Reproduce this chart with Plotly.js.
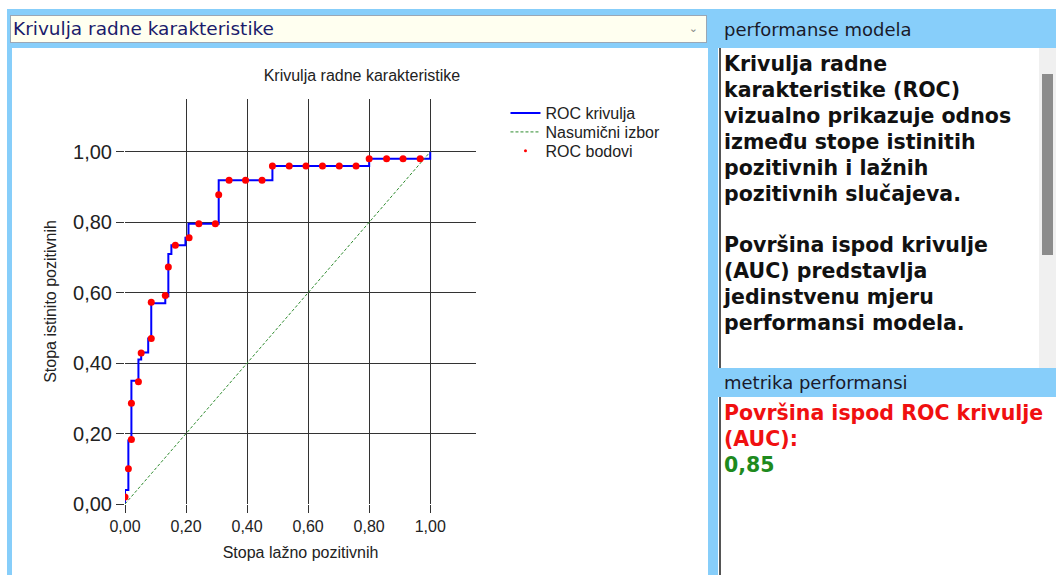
<!DOCTYPE html>
<html>
<head>
<meta charset="utf-8">
<script src="https://cdn.plot.ly/plotly-3.0.1.min.js"></script>
<style>
  html, body { margin:0; padding:0; width:1056px; height:575px; overflow:hidden; background:#ffffff; }
  .abs { position:absolute; box-sizing:border-box; }
  #frame { left:7px; top:9px; width:711px; height:566px; background:#87CEFA; }
  #combo { left:10px; top:15px; width:697px; height:28px; background:#FFFFF0; border:1px solid #9aa7b5;
           font-family:"DejaVu Sans", sans-serif; font-size:18.5px; color:#1b1b6b; line-height:26px; padding-left:2px; }
  #chev { right:8px; top:0px; font-size:11px; color:#888; }
  #plotbox { left:12px; top:48px; width:696px; height:527px; background:#ffffff; }
  .hdr { background:#87CEFA; font-family:"DejaVu Sans", sans-serif; font-size:18px; color:#1a1a2a; padding-left:8px; }
  #hdr1 { left:716px; top:9px; width:340px; height:39px; line-height:42px; }
  #box1 { left:719px; top:48px; width:337px; height:320px; background:#fff; border-left:2px solid #555; overflow:hidden; }
  #txt1 { left:3px; top:4px; width:312px; font-family:"DejaVu Sans", sans-serif; font-weight:bold; font-size:20.5px; line-height:25.9px; color:#111; }
  #track { left:318px; top:0px; width:19px; height:320px; background:#f0f0f0; }
  #thumb { left:321px; top:26px; width:11px; height:181px; background:#8c8c8c; }
  #hdr2 { left:716px; top:368px; width:340px; height:29px; line-height:29px; }
  #box2 { left:719px; top:397px; width:337px; height:178px; background:#fff; border-left:2px solid #555; }
  #txt2 { left:3px; top:4px; width:333px; font-family:"DejaVu Sans", sans-serif; font-weight:bold; font-size:20.5px; line-height:25.9px; }
</style>
</head>
<body>
<div id="frame" class="abs"></div>
<div id="combo" class="abs">Krivulja radne karakteristike<span id="chev" class="abs">&#8964;</span></div>
<div id="plotbox" class="abs"><div id="chart" style="width:696px;height:527px;"></div></div>

<div id="hdr1" class="abs hdr">performanse modela</div>
<div id="box1" class="abs">
  <div id="txt1" class="abs">Krivulja radne karakteristike (ROC) vizualno prikazuje odnos između stope istinitih pozitivnih i lažnih pozitivnih slučajeva.<br><br>Površina ispod krivulje (AUC) predstavlja jedinstvenu mjeru performansi modela.</div>
  <div id="track" class="abs"></div>
  <div id="thumb" class="abs"></div>
</div>
<div id="hdr2" class="abs hdr">metrika performansi</div>
<div id="box2" class="abs">
  <div id="txt2" class="abs"><span style="color:#f01010">Površina ispod ROC krivulje (AUC):</span><br><span style="color:#1e8a1e">0,85</span></div>
</div>

<script>
// ROC step curve vertices (false positive rate, true positive rate)
const curveFpr = [0, 0, 0.011, 0.021, 0.044, 0.053, 0.076, 0.086, 0.132, 0.142, 0.152, 0.198, 0.208, 0.307, 0.483, 0.80, 1.0];
const curveTpr = [0, 0.04, 0.18, 0.35, 0.41, 0.43, 0.47, 0.57, 0.59, 0.71, 0.735, 0.756, 0.796, 0.919, 0.96, 0.98, 1.0];

// ROC points
const pointFpr = [0, 0.011, 0.021, 0.021, 0.044, 0.053, 0.086, 0.086, 0.132, 0.142, 0.165, 0.21, 0.242, 0.296, 0.307, 0.341, 0.395, 0.449, 0.483, 0.538, 0.593, 0.647, 0.702, 0.757, 0.80, 0.857, 0.911, 0.967];
const pointTpr = [0.02, 0.10, 0.183, 0.286, 0.347, 0.429, 0.47, 0.573, 0.592, 0.673, 0.735, 0.756, 0.796, 0.796, 0.878, 0.919, 0.919, 0.919, 0.96, 0.96, 0.96, 0.96, 0.96, 0.96, 0.98, 0.98, 0.98, 0.98];

// Random guess diagonal
const diagX = [0, 1];
const diagY = [0, 1];

const tickVals = [0, 0.2, 0.4, 0.6, 0.8, 1.0];

const traces = [
  { x: curveFpr, y: curveTpr, type: 'scatter', mode: 'lines', name: 'ROC krivulja', legend: 'legend',
    line: { color: '#0000ff', width: 2, shape: 'hv' } },
  { x: diagX, y: diagY, type: 'scatter', mode: 'lines', name: 'Nasumični izbor', legend: 'legend2',
    line: { color: '#2e8b2e', width: 1, dash: '3px,2px' } },
  { x: pointFpr, y: pointTpr, type: 'scatter', mode: 'markers', name: 'ROC bodovi', showlegend: false,
    marker: { color: '#ff0000', size: 7 } },
  { x: [null], y: [null], type: 'scatter', mode: 'markers', name: 'ROC bodovi', legend: 'legend3',
    marker: { color: '#ff0000', size: 3 } }
];

const axisCommon = {
  range: [0, 1.15], tickvals: tickVals, tickformat: '.2f',
  showgrid: true, gridcolor: '#333333', gridwidth: 1,
  zeroline: false, showline: false,
  ticks: 'outside', ticklen: 8, tickcolor: '#333333',
  fixedrange: true
};

const legendCommon = { x: 1.084, xanchor: 'left', yanchor: 'middle', font: { size: 16 },
                       bgcolor: 'rgba(0,0,0,0)', itemwidth: 30 };

const layout = {
  width: 696, height: 527,
  margin: { l: 113, r: 232, t: 51, b: 71 },
  paper_bgcolor: '#ffffff', plot_bgcolor: '#ffffff',
  separators: ',.',
  font: { family: '"Liberation Sans", Arial, sans-serif', color: '#222', size: 16 },
  title: { text: 'Krivulja radne karakteristike', x: 0.675, xref: 'paper', xanchor: 'center',
           y: 0.948, yref: 'container', yanchor: 'middle', font: { size: 16, color: '#222' } },
  xaxis: Object.assign({}, axisCommon, {
    tickfont: { size: 16 },
    title: { text: 'Stopa lažno pozitivnih', font: { size: 16 }, standoff: 12 }
  }),
  yaxis: Object.assign({}, axisCommon, {
    tickfont: { size: 20 },
    title: { text: 'Stopa istinito pozitivnih', font: { size: 16 }, standoff: 12 }
  }),
  showlegend: true,
  legend: Object.assign({}, legendCommon, { y: 0.965 }),
  legend2: Object.assign({}, legendCommon, { y: 0.9185 }),
  legend3: Object.assign({}, legendCommon, { y: 0.872 })
};

Plotly.newPlot('chart', traces, layout, { displayModeBar: false, staticPlot: true });
</script>
</body>
</html>
